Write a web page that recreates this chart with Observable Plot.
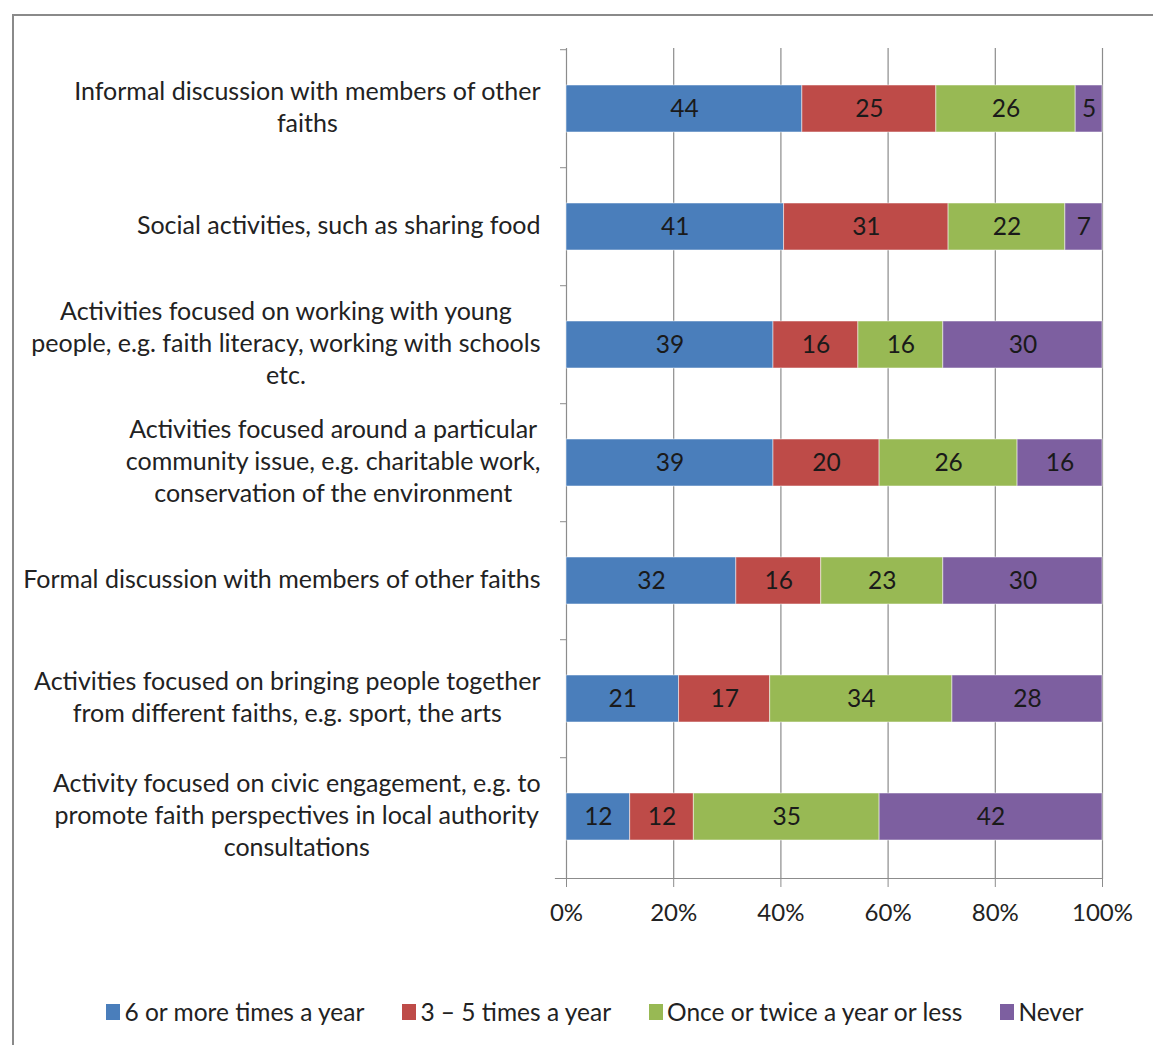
<!DOCTYPE html>
<html>
<head>
<meta charset="utf-8">
<script src="https://cdn.jsdelivr.net/npm/d3@7"></script>
<script src="https://cdn.jsdelivr.net/npm/@observablehq/plot@0.6"></script>
<style>
  html, body { margin: 0; padding: 0; background: #fff; }
  #wrap { position: relative; width: 1153px; height: 1045px; overflow: hidden; font-family: Lato, "Open Sans", sans-serif; }
  #border { position: absolute; left: 12px; top: 14px; right: -10px; bottom: -10px; border-left: 2px solid #8a8a8a; border-top: 2px solid #8a8a8a; }
  #chart { position: absolute; left: 0; top: 0; }
  #legend { position: absolute; left: 0; width: 1190px; top: 997px; display: flex; justify-content: center; gap: 38px; font-size: 24.5px; color: #222; }
  #legend .item { display: flex; align-items: center; gap: 4px; }
  #legend .sw { width: 14px; height: 16px; display: inline-block; }
</style>
</head>
<body>
<div id="wrap">
  <div id="border"></div>
  <div id="chart"></div>
  <div id="legend"></div>
</div>
<script>
const categories = [
  "Informal discussion with members of other\nfaiths",
  "Social activities, such as sharing food",
  "Activities focused on working with young\npeople, e.g. faith literacy, working with schools\netc.",
  "Activities focused around a particular\ncommunity issue, e.g. charitable work,\nconservation of the environment",
  "Formal discussion with members of other faiths",
  "Activities focused on bringing people together\nfrom different faiths, e.g. sport, the arts",
  "Activity focused on civic engagement, e.g. to\npromote faith perspectives in local authority\nconsultations"
];
const seriesNames = ["6 or more times a year", "3 \u2013 5 times a year", "Once or twice a year or less", "Never"];
const seriesColors = ["#4a7ebb", "#be4b48", "#98b954", "#7d5fa0"];
const sixOrMore = [44, 41, 39, 39, 32, 21, 12];
const threeToFive = [25, 31, 16, 20, 16, 17, 12];
const onceOrTwice = [26, 22, 16, 26, 23, 34, 35];
const never = [5, 7, 30, 16, 30, 28, 42];
const xTicks = [0, 0.2, 0.4, 0.6, 0.8, 1];

const seriesValues = [sixOrMore, threeToFive, onceOrTwice, never];
const data = [];
categories.forEach((c, i) => {
  seriesNames.forEach((s, j) => {
    data.push({activity: c, series: s, value: seriesValues[j][i]});
  });
});

const W = 1153, H = 950, mTop = 48, mBottom = 72, mLeft = 566, mRight = 51;
const step = (H - mTop - mBottom) / categories.length;

const plot = Plot.plot({
  width: W,
  height: H,
  marginTop: mTop,
  marginBottom: mBottom,
  marginLeft: mLeft,
  marginRight: mRight,
  style: {fontFamily: "Lato, 'Open Sans', sans-serif", fontSize: "24px", color: "#222", background: "transparent", overflow: "visible"},
  x: {domain: [0, 1], label: null},
  y: {domain: categories, paddingInner: 0.6, paddingOuter: 0.3, label: null},
  color: {domain: seriesNames, range: seriesColors},
  marks: [
    Plot.ruleX(xTicks, {stroke: "#8c8c8c", strokeWidth: 1.2}),
    Plot.frame({anchor: "bottom", stroke: "#8c8c8c", strokeWidth: 1.2, insetLeft: -11}),
    Plot.axisX({ticks: xTicks, tickFormat: d3.format(".0%"), tickSize: 9, tickPadding: 16, stroke: "#8c8c8c", fontSize: 24, fill: "#222", label: null}),
    Plot.axisY({tickSize: 6, fill: "none", stroke: "#8c8c8c", dy: -step / 2, label: null}),
    Plot.axisY({tickSize: 0, tickPadding: 26, stroke: "none", fill: "#222", fontSize: 25, lineHeight: 1.28, dy: -3, label: null}),
    Plot.barX(data, Plot.stackX({x: "value", y: "activity", fill: "series", offset: "normalize", order: seriesNames, stroke: "#ffffff", strokeOpacity: 0.5, strokeWidth: 1})),
    Plot.textX(data, Plot.stackX({x: "value", y: "activity", z: "series", text: "value", offset: "normalize", order: seriesNames, fill: "#1a1a1a", fontSize: 24.5}))
  ]
});

document.getElementById("chart").appendChild(plot);

// center multi-line y labels within their right-aligned block
d3.select(plot).selectAll("g[aria-label='y-axis tick label'] text").each(function() {
  const tspans = this.querySelectorAll("tspan");
  if (tspans.length < 2) return;
  const bb = this.getBBox();
  const cx = bb.x + bb.width / 2;
  this.setAttribute("text-anchor", "middle");
  tspans.forEach(t => t.setAttribute("x", cx));
});

const legend = d3.select("#legend");
seriesNames.forEach((s, i) => {
  const it = legend.append("div").attr("class", "item");
  it.append("span").attr("class", "sw").style("background", seriesColors[i]);
  it.append("span").text(s);
});
</script>
</body>
</html>
